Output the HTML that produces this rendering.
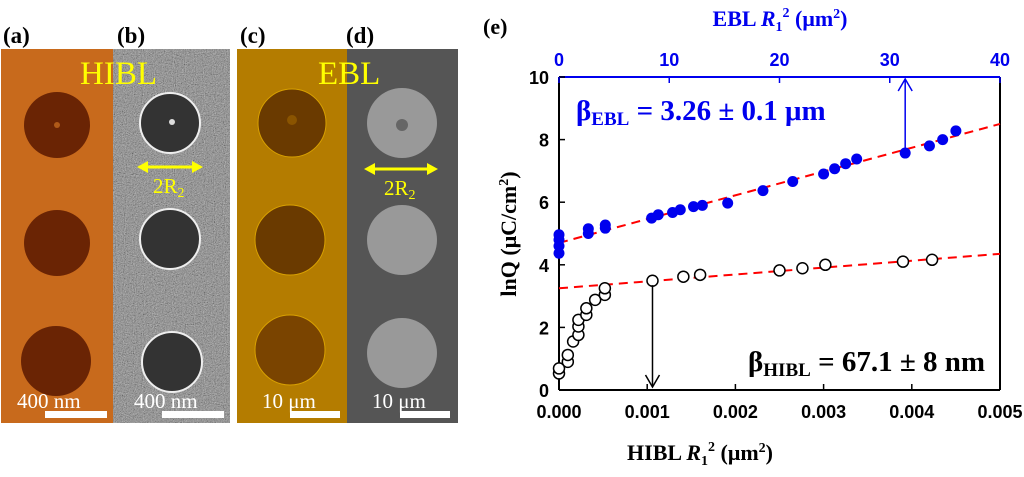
<!DOCTYPE html>
<html><head><meta charset="utf-8"><style>
body{margin:0;background:#fff;}
svg text{font-family:"Liberation Serif",serif;font-weight:bold;}
.t{font-family:"Liberation Sans",sans-serif;}
</style></head><body>
<svg width="1024" height="472" viewBox="0 0 1024 472">
<defs>
<filter id="noise" x="0" y="0" width="100%" height="100%"><feTurbulence type="fractalNoise" baseFrequency="0.9" numOctaves="2" seed="3"/><feColorMatrix type="saturate" values="0"/><feComponentTransfer><feFuncR type="linear" slope="2.4" intercept="-0.7"/><feFuncG type="linear" slope="2.4" intercept="-0.7"/><feFuncB type="linear" slope="2.4" intercept="-0.7"/></feComponentTransfer></filter>
</defs>
<g>
<rect x="1" y="49" width="113" height="374" fill="#c86a1c"/>
<circle cx="57" cy="125" r="33" fill="#6a2404"/><circle cx="57" cy="125" r="3" fill="#b05a18"/>
<circle cx="57" cy="243" r="33" fill="#6a2404"/>
<circle cx="56" cy="361" r="35" fill="#6a2404"/>
<text x="17" y="408" fill="#fff" font-size="21" style="font-weight:normal">400 nm</text>
<rect x="45" y="411" width="62" height="7" fill="#fff"/>
</g>
<g>
<rect x="113" y="49" width="117" height="374" fill="#888"/>
<rect x="113" y="49" width="117" height="374" filter="url(#noise)" opacity="0.6"/>
<circle cx="170" cy="123" r="30" fill="#333" stroke="#eee" stroke-width="2"/><circle cx="172" cy="122" r="3" fill="#ddd"/>
<circle cx="170" cy="239" r="30" fill="#333" stroke="#eee" stroke-width="2"/>
<circle cx="172" cy="362" r="30" fill="#333" stroke="#eee" stroke-width="2"/>
<text x="134" y="408" fill="#fff" font-size="21" style="font-weight:normal">400 nm</text>
<rect x="162" y="411" width="62" height="7" fill="#fff"/>
<path d="M142 167 H198" stroke="#ff0" stroke-width="3"/>
<path d="M137 167 L148 161 L148 173Z M203 167 L192 161 L192 173Z" fill="#ff0"/>
<text x="153" y="193" fill="#ff0" font-size="21" style="font-weight:normal">2R<tspan font-size="14" dy="4">2</tspan></text>
</g>
<text x="80" y="84" fill="#ff0" font-size="33" style="font-weight:normal">HIBL</text>
<g>
<rect x="237" y="49" width="111" height="374" fill="#b47c00"/>
<circle cx="292" cy="123" r="34" fill="#6a3a00" stroke="#d8a000" stroke-width="1"/><circle cx="292" cy="120" r="5" fill="#8a5400"/>
<circle cx="290" cy="240" r="35" fill="#6a3a00" stroke="#d8a000" stroke-width="1"/>
<circle cx="290" cy="350" r="35" fill="#7a4400" stroke="#d8a000" stroke-width="1"/>
<text x="262" y="408" fill="#fff" font-size="21" style="font-weight:normal">10 μm</text>
<rect x="290" y="411" width="50" height="7" fill="#fff"/>
</g>
<g>
<rect x="347" y="49" width="111" height="374" fill="#555"/>
<circle cx="402" cy="123" r="35" fill="#999"/><circle cx="402" cy="125" r="6" fill="#666"/>
<circle cx="402" cy="240" r="35" fill="#999"/>
<circle cx="402" cy="353" r="35" fill="#999"/>
<text x="372" y="408" fill="#fff" font-size="21" style="font-weight:normal">10 μm</text>
<rect x="400" y="411" width="50" height="7" fill="#fff"/>
<path d="M370 169 H432" stroke="#ff0" stroke-width="3"/>
<path d="M364 169 L375 163 L375 175Z M438 169 L427 163 L427 175Z" fill="#ff0"/>
<text x="384" y="195" fill="#ff0" font-size="21" style="font-weight:normal">2R<tspan font-size="14" dy="4">2</tspan></text>
</g>
<text x="318" y="84" fill="#ff0" font-size="33" style="font-weight:normal">EBL</text>
<text x="3" y="43" font-size="23">(a)</text>
<text x="117" y="43" font-size="23">(b)</text>
<text x="240" y="43" font-size="23">(c)</text>
<text x="346" y="43" font-size="23">(d)</text>
<text x="483" y="34" font-size="22">(e)</text>
<g id="chart"></g>
</svg>
<script>
const hiblX=[0,0,0.0001,0.0001,0.00016,0.00022,0.00022,0.00022,0.00031,0.00031,0.00041,0.00052,0.00052,0.00106,0.00141,0.0016,0.0025,0.00276,0.00302,0.0039,0.00423];
const hiblY=[0.53,0.69,0.9,1.12,1.55,1.76,2.03,2.24,2.4,2.61,2.88,3.04,3.25,3.49,3.62,3.68,3.82,3.89,4.0,4.1,4.16];
const eblX=[0,0,0,0,2.66,2.66,4.2,4.2,8.4,9.0,10.3,11,12.2,13,15.3,18.5,21.2,24,25,26,27,31.4,33.6,34.8,36];
const eblY=[4.37,4.6,4.8,4.96,5.0,5.15,5.17,5.27,5.49,5.6,5.67,5.76,5.86,5.9,5.97,6.37,6.66,6.9,7.07,7.23,7.38,7.57,7.8,8.0,8.28];
const eblFit=[4.7,8.5];
const hiblFit=[3.25,4.35];
const yTicks=[0,2,4,6,8,10];
const xTicks=["0.000","0.001","0.002","0.003","0.004","0.005"];
const topTicks=[0,10,20,30,40];
const L=559,R=1000,T=77,B=390;
const xb=v=>L+v/0.005*(R-L), xt=v=>L+v/40*(R-L), y=v=>B-v/10*(B-T);
const g=document.getElementById('chart');const NS='http://www.w3.org/2000/svg';
function mk(t,a,p){const e=document.createElementNS(NS,t);for(const k in a)e.setAttribute(k,a[k]);(p||g).appendChild(e);return e;}
let e;
e=mk('line',{x1:L,y1:B,x2:R,y2:B,stroke:'#000','stroke-width':2});

e=mk('line',{x1:L,y1:T,x2:L,y2:B,stroke:'#000','stroke-width':2});

e=mk('line',{x1:R,y1:T,x2:R,y2:B,stroke:'#000','stroke-width':2});

e=mk('line',{x1:L,y1:T,x2:R,y2:T,stroke:'#0000ee','stroke-width':2});

yTicks.forEach(v=>{mk('line',{x1:L,y1:y(v),x2:L+6,y2:y(v),stroke:'#000','stroke-width':1.5});
e=mk('text',{x:L-10,y:y(v)+7,'text-anchor':'end','font-size':18,class:'t'});e.textContent=v;
});
xTicks.forEach((s,i)=>{const v=parseFloat(s);mk('line',{x1:xb(v),y1:B,x2:xb(v),y2:B-6,stroke:'#000','stroke-width':1.5});
e=mk('text',{x:xb(v),y:B+28,'text-anchor':'middle','font-size':18,class:'t'});e.textContent=s;
});
topTicks.forEach(v=>{mk('line',{x1:xt(v),y1:T,x2:xt(v),y2:T+6,stroke:'#0000ee','stroke-width':1.5});
e=mk('text',{x:xt(v),y:T-11,'text-anchor':'middle','font-size':18,class:'t',fill:'#0000ee'});e.textContent=v;
});
e=mk('line',{x1:xt(0),y1:y(eblFit[0]),x2:xt(40),y2:y(eblFit[1]),stroke:'#f00','stroke-width':2,'stroke-dasharray':'9,6'});

e=mk('line',{x1:xb(0),y1:y(hiblFit[0]),x2:xb(0.005),y2:y(hiblFit[1]),stroke:'#f00','stroke-width':2,'stroke-dasharray':'9,6'});

eblX.forEach((v,i)=>{e=mk('circle',{cx:xt(v),cy:y(eblY[i]),r:5.5,fill:'#0000ee'});
});
hiblX.forEach((v,i)=>{e=mk('circle',{cx:xb(v),cy:y(hiblY[i]),r:5.5,fill:'#fff',stroke:'#000','stroke-width':1.5});
});
mk('line',{x1:xt(31.4),y1:y(7.65),x2:xt(31.4),y2:T+2,stroke:'#0000ee','stroke-width':1.5});
mk('path',{d:`M${xt(31.4)-7} ${T+14} L${xt(31.4)} ${T+2} L${xt(31.4)+7} ${T+14}`,stroke:'#0000ee',fill:'none','stroke-width':1.5});
mk('line',{x1:xb(0.00106),y1:y(3.35),x2:xb(0.00106),y2:B-3,stroke:'#000','stroke-width':1.5});
mk('path',{d:`M${xb(0.00106)-7} ${B-15} L${xb(0.00106)} ${B-3} L${xb(0.00106)+7} ${B-15}`,stroke:'#000',fill:'none','stroke-width':1.5});
e=mk('text',{x:576,y:120,'font-size':29,fill:'#0000ee'});e.innerHTML='β<tspan font-size="19" dy="5">EBL</tspan><tspan dy="-5"> = 3.26 ± 0.1 μm</tspan>';

e=mk('text',{x:748,y:371,'font-size':29,fill:'#000'});e.innerHTML='β<tspan font-size="19" dy="5">HIBL</tspan><tspan dy="-5"> = 67.1 ± 8 nm</tspan>';

e=mk('text',{x:700,y:460,'font-size':22,'text-anchor':'middle'});e.innerHTML='HIBL <tspan font-style="italic">R</tspan><tspan font-size="14" dy="5">1</tspan><tspan font-size="14" dy="-14">2</tspan><tspan dy="9"> (μm</tspan><tspan font-size="14" dy="-8">2</tspan><tspan dy="8">)</tspan>';

e=mk('text',{x:780,y:26,'font-size':22,'text-anchor':'middle',fill:'#0000ee'});e.innerHTML='EBL <tspan font-style="italic">R</tspan><tspan font-size="14" dy="5">1</tspan><tspan font-size="14" dy="-14">2</tspan><tspan dy="9"> (μm</tspan><tspan font-size="14" dy="-8">2</tspan><tspan dy="8">)</tspan>';

e=mk('text',{x:0,y:0,'font-size':22,'text-anchor':'middle',transform:'translate(516,234) rotate(-90)'});e.innerHTML='lnQ (μC/cm<tspan font-size="14" dy="-8">2</tspan><tspan dy="8">)</tspan>';

</script>
</body></html>
